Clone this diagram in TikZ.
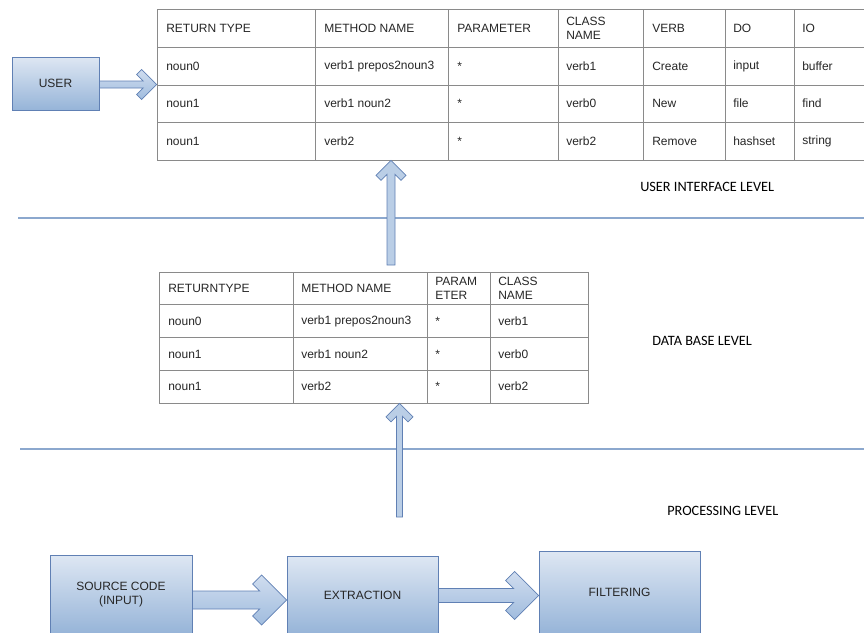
\documentclass[tikz,border=0pt]{standalone}
\usepackage{fontspec}
\setmainfont{Liberation Sans}
\newfontfamily\levelfont{Carlito}
\usetikzlibrary{calc}

\definecolor{boxtop}{RGB}{222,231,243}
\definecolor{boxbot}{RGB}{150,180,216}
\definecolor{boxline}{RGB}{96,128,180}
\definecolor{arrowtop}{RGB}{208,221,239}
\definecolor{arrowbot}{RGB}{160,188,222}
\definecolor{arrowmid}{RGB}{186,206,230}
\definecolor{gridcol}{RGB}{138,138,138}
\definecolor{levelcol}{RGB}{140,168,206}

\def\px{0.75pt}
\newcommand{\cellfont}{\fontsize{9}{10.5}\selectfont}

% block arrows: #1 shaft half width, #2 head size, #3 arm width, #4 from, #5 tip
\newcommand{\harrow}[5]{%
  \draw[arrowbody] ($(#4|-#5)+(0,-#1)$) -- ($(#5)+({-2*#3-#1},-#1)$)
    -- ($(#5)+({-#2-#3},{-#2+#3})$) -- ($(#5)+(-#2,-#2)$) -- (#5)
    -- ($(#5)+(-#2,#2)$) -- ($(#5)+({-#2-#3},{#2-#3})$)
    -- ($(#5)+({-2*#3-#1},#1)$) -- ($(#4|-#5)+(0,#1)$) -- cycle;}
\newcommand{\varrow}[5]{%
  \draw[arrowflat] ($(#4-|#5)+(-#1,0)$) -- ($(#5)+(-#1,{2*#3+#1})$)
    -- ($(#5)+({-#2+#3},{#2+#3})$) -- ($(#5)+(-#2,#2)$) -- (#5)
    -- ($(#5)+(#2,#2)$) -- ($(#5)+({#2-#3},{#2+#3})$)
    -- ($(#5)+(#1,{2*#3+#1})$) -- ($(#4-|#5)+(#1,0)$) -- cycle;}

\begin{document}
\begin{tikzpicture}[x=0.75pt,y=-0.75pt,
  stagebox/.style={draw=boxline,top color=boxtop,bottom color=boxbot,font=\cellfont,text=black!85,align=center,inner sep=0pt,line width=0.6pt},
  tablebox/.style={draw=gridcol,inner sep=0pt,line width=0.6pt},
  tablegrid/.style={draw=gridcol,line width=0.6pt},
  cell/.style={anchor=west,align=left,font=\cellfont,text=black!85,inner sep=0pt},
  levelname/.style={anchor=west,font=\levelfont\fontsize{10.7}{12}\selectfont,inner sep=0pt},
  levelline/.style={draw=levelcol,line width=0.9pt},
  arrowbody/.style={draw=boxline,top color=arrowtop,bottom color=arrowbot,line width=0.6pt},
  arrowflat/.style={draw=boxline,fill=arrowmid,line width=0.6pt}]
  \useasboundingbox (0,0) rectangle (864,632);

  % user interface level
  \node[stagebox,minimum width=87*\px,minimum height=53*\px] (user) at (55.5,83.5) {USER};
  \node[tablebox,minimum width=707*\px,minimum height=151*\px] (ui) at (510.5,84.5) {};
  \foreach \c in {315,448,558,643,725,794} \draw[tablegrid] (\c,9) -- (\c,160);
  \foreach \r in {47,85,122} \draw[tablegrid] (157,\r) -- (864,\r);
  \foreach \x/\t [count=\i] in {166/RETURN TYPE,324/METHOD NAME,457/PARAMETER,566/{CLASS\\NAME},652/VERB,733/DO,802/IO}
    \node[cell] (uih\i) at (\x,28) {\t};
  \foreach \x/\t [count=\i] in {166/noun0,324/verb1 prepos2noun3,457/*,566/verb1,652/Create,733/input,802/buffer}
    \node[cell] (uia\i) at (\x,66) {\t};
  \foreach \x/\t [count=\i] in {166/noun1,324/verb1 noun2,457/*,566/verb0,652/New,733/file,802/find}
    \node[cell] (uib\i) at (\x,103) {\t};
  \foreach \x/\t [count=\i] in {166/noun1,324/verb2,457/*,566/verb2,652/Remove,733/hashset,802/string}
    \node[cell] (uic\i) at (\x,141) {\t};
  \harrow{3.5}{15}{5}{user.east}{ui.west}
  \node[levelname] (uilevel) at (640,187) {USER INTERFACE LEVEL};
  \draw[levelline] (18,218) -- (864,218);

  % data base level
  \node[tablebox,minimum width=429*\px,minimum height=131*\px] (db) at (373.5,337.5) {};
  \foreach \c in {293,427,490} \draw[tablegrid] (\c,272) -- (\c,403);
  \foreach \r in {304,337,370} \draw[tablegrid] (159,\r) -- (588,\r);
  \foreach \x/\t [count=\i] in {168/RETURNTYPE,301/METHOD NAME,435/{PARAM\\ETER},498/{CLASS\\NAME}}
    \node[cell] (dbh\i) at (\x,288) {\t};
  \foreach \x/\t [count=\i] in {168/noun0,301/verb1 prepos2noun3,435/*,498/verb1}
    \node[cell] (dba\i) at (\x,321) {\t};
  \foreach \x/\t [count=\i] in {168/noun1,301/verb1 noun2,435/*,498/verb0}
    \node[cell] (dbb\i) at (\x,354) {\t};
  \foreach \x/\t [count=\i] in {168/noun1,301/verb2,435/*,498/verb2}
    \node[cell] (dbc\i) at (\x,386) {\t};
  \coordinate (dbup) at (391,265);
  \coordinate (uiin) at (ui.south -| dbup);
  \varrow{4}{15}{5}{dbup}{uiin}
  \node[levelname] (dblevel) at (652,341) {DATA BASE LEVEL};
  \draw[levelline] (20,449) -- (864,449);

  % processing level
  \coordinate (procup) at (399.5,517);
  \coordinate (dbin) at (db.south -| procup);
  \varrow{3}{13.5}{5}{procup}{dbin}
  \node[levelname] (proclevel) at (667,511) {PROCESSING LEVEL};
  \node[stagebox,minimum width=142*\px,minimum height=79*\px] (src) at (121,594.5) {SOURCE CODE\\(INPUT)};
  \node[stagebox,minimum width=151*\px,minimum height=78*\px] (ext) at (362.5,595) {EXTRACTION};
  \node[stagebox,minimum width=161*\px,minimum height=83*\px] (filt) at (619.5,592.5) {FILTERING};
  \coordinate (extin) at ($(ext.west)+(0,5)$);
  \coordinate (filtin) at ($(filt.west)+(0,3)$);
  \harrow{9}{25}{9}{src.east}{extin}
  \harrow{7}{24}{9}{ext.east}{filtin}
\end{tikzpicture}
\end{document}
